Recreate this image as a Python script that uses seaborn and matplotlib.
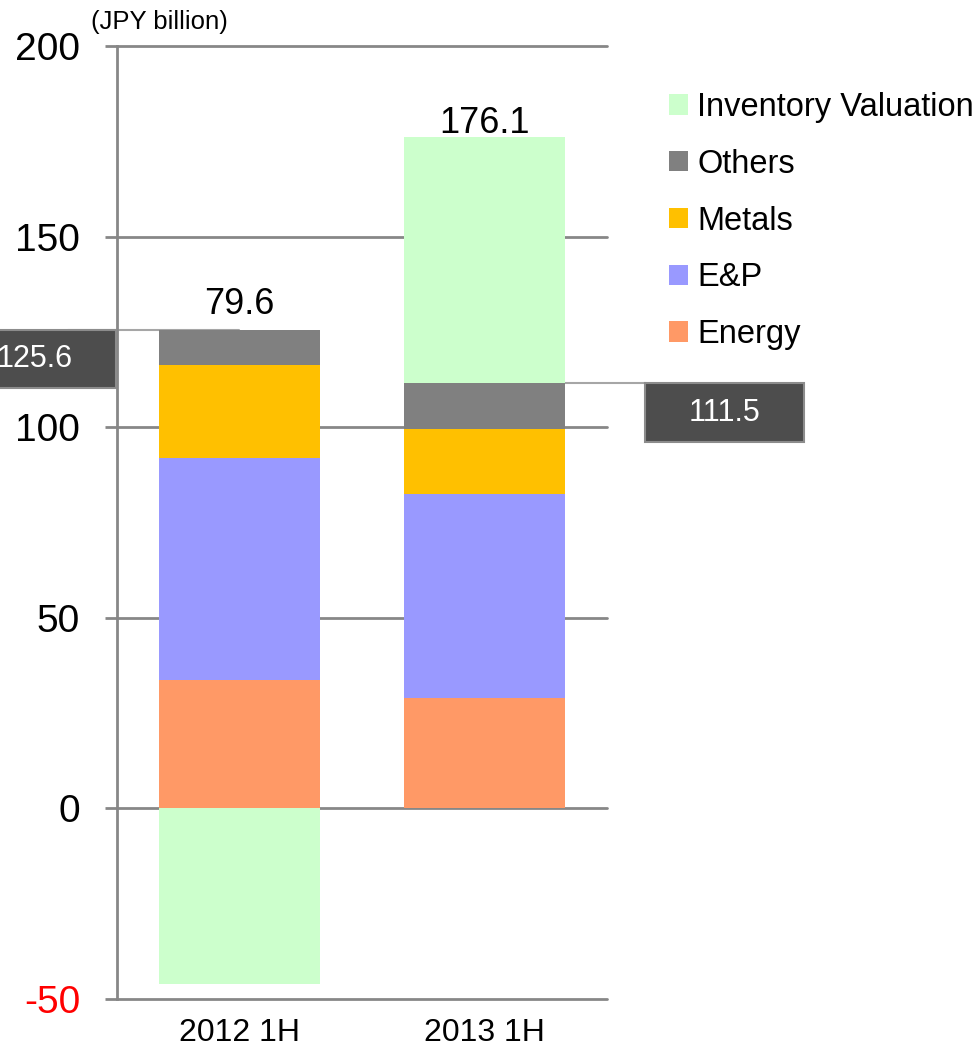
import numpy as np
import pandas as pd
import matplotlib
matplotlib.use("Agg")
import matplotlib.pyplot as plt
import seaborn as sns
from matplotlib.patches import Patch, Rectangle
from matplotlib.transforms import blended_transform_factory

# Ordinary income by segment (JPY billion)
periods = ["2012 1H", "2013 1H"]
energy = [33.7, 29.0]
exploration = [58.3, 53.6]
metals = [24.3, 16.9]
others = [9.3, 12.0]
inventory = [-46.0, 64.6]

segment_names = ["Energy", "E&P", "Metals", "Others", "Inventory Valuation"]
segment_colors = ["#FF9966", "#9999FF", "#FFC000", "#808080", "#CCFFCC"]
y_ticks = [-50, 0, 50, 100, 150, 200]

sns.set_theme(style="white")
plt.rcParams["font.family"] = ["Liberation Sans", "DejaVu Sans"]
plt.rcParams["text.color"] = "black"

fig = plt.figure(figsize=(9.79, 10.48), dpi=100)
ax = fig.add_axes([0.1195, 0.0468, 0.5005, 0.9093])

series = [energy, exploration, metals, others, inventory]
pos_base = np.zeros(len(periods))
neg_base = np.zeros(len(periods))
for name, vals, color in zip(segment_names, series, segment_colors):
    vals = np.asarray(vals, dtype=float)
    bottom = np.where(vals >= 0, pos_base, neg_base)
    df = pd.DataFrame({"period": periods, "value": vals})
    sns.barplot(data=df, x="period", y="value", order=periods, color=color,
                saturation=1, width=0.66, bottom=bottom, linewidth=0,
                errorbar=None, ax=ax, zorder=3)
    pos_base += np.where(vals >= 0, vals, 0)
    neg_base += np.where(vals < 0, vals, 0)

core = [e + p + m + o for e, p, m, o in zip(energy, exploration, metals, others)]
totals = pos_base + neg_base

grid_color = "#878787"
ax.set_xlim(-0.5, 1.5)
ax.set_ylim(-50, 200)
ax.set_yticks(y_ticks)
ax.set_yticklabels([str(t) for t in y_ticks])
ax.set_xlabel("")
ax.set_ylabel("")
ax.yaxis.grid(True, color=grid_color, linewidth=2.0)
ax.xaxis.grid(False)
ax.set_axisbelow(True)
for s in ["top", "right", "bottom"]:
    ax.spines[s].set_visible(False)
ax.spines["left"].set_color(grid_color)
ax.spines["left"].set_linewidth(2.0)
ax.tick_params(axis="y", left=True, length=8.6, width=2.0, color=grid_color,
               pad=18, labelsize=28, direction="out", labelcolor="black")
ax.tick_params(axis="x", bottom=False, length=0, pad=14, labelsize=23,
               labelcolor="black")
ax.get_yticklabels()[0].set_color("red")
for gl in ax.get_ygridlines():
    gl.set_clip_on(False)

# Net totals above the bars
label_offsets = [11, 3]
for i, (tot, top) in enumerate(zip(totals, pos_base)):
    ax.annotate(f"{tot:.1f}", xy=(i, top), xytext=(0, label_offsets[i]),
                textcoords="offset points", ha="center", va="baseline",
                fontsize=26, color="black")

# Callout boxes for the total excluding inventory valuation
trans = blended_transform_factory(ax.transAxes, ax.transData)
box_h = 15.3
box_face = "#4D4D4D"
box_edge = "#8C8C8C"
line_color = "#A6A6A6"

ax.plot([-0.10, 0.25], [core[0], core[0]], transform=trans, color=line_color,
        lw=1.5, clip_on=False, zorder=2)
ax.add_patch(Rectangle((-0.40, core[0] - box_h), 0.397, box_h, transform=trans,
                       facecolor=box_face, edgecolor=box_edge, lw=1.5,
                       clip_on=False, zorder=5))
ax.text(-0.167, core[0] - box_h / 2, f"{core[0]:.1f}", transform=trans,
        color="white", fontsize=22, ha="center", va="center", zorder=6,
        clip_on=False)

ax.plot([0.75, 1.08], [core[1], core[1]], transform=trans, color=line_color,
        lw=1.5, clip_on=False, zorder=2)
ax.add_patch(Rectangle((1.078, core[1] - box_h), 0.324, box_h, transform=trans,
                       facecolor=box_face, edgecolor=box_edge, lw=1.5,
                       clip_on=False, zorder=5))
ax.text(1.240, core[1] - box_h / 2, f"{core[1]:.1f}", transform=trans,
        color="white", fontsize=22, ha="center", va="center", zorder=6,
        clip_on=False)

# Unit note
fig.text(91 / 979, 1 - 22 / 1048, "(JPY billion)", ha="left", va="center",
         fontsize=18.5, color="black")

# Legend, top entry first
handles = [Patch(facecolor=c, edgecolor="none", label=n)
           for n, c in zip(segment_names[::-1], segment_colors[::-1])]
leg = fig.legend(handles=handles, loc="upper left",
                 bbox_to_anchor=(669 / 979, 1 - 92 / 1048), frameon=False,
                 fontsize=23.5, handlelength=0.58, handleheight=0.58,
                 handletextpad=0.28, labelspacing=0.79, borderpad=0,
                 borderaxespad=0)
for t in leg.get_texts():
    t.set_color("black")

fig.savefig("out.png", dpi=100)
